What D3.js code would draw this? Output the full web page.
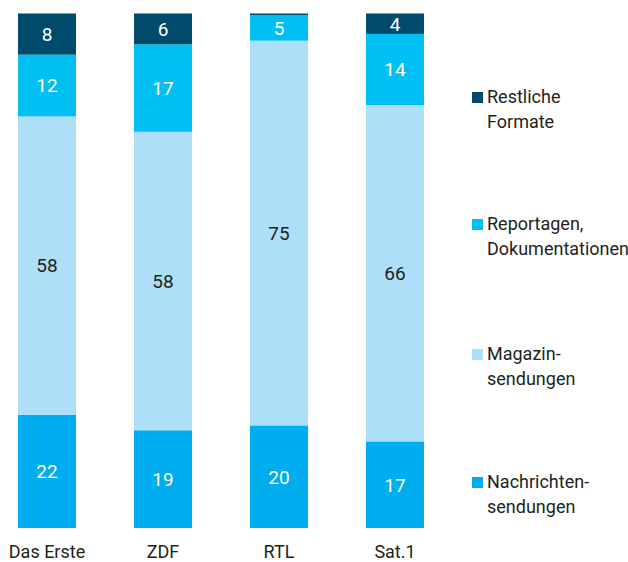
<!DOCTYPE html>
<html>
<head>
<meta charset="utf-8">
<script src="https://cdn.jsdelivr.net/npm/d3@7"></script>
<style>
  body { margin: 0; background: #fff; }
  svg text { font-family: Roboto, "Liberation Sans", sans-serif; }
</style>
</head>
<body>
<div id="chart"></div>
<script>
// Data
const channels = ['Das Erste', 'ZDF', 'RTL', 'Sat.1'];
const nachrichten = [22, 19, 20, 17];
const magazin = [58, 58, 75, 66];
const reportagen = [12, 17, 5, 14];
const restliche = [8, 6, 0.3, 4];

const seriesKeys = ['nachrichten', 'magazin', 'reportagen', 'restliche'];
const seriesLabels = {
  nachrichten: ['Nachrichten-', 'sendungen'],
  magazin: ['Magazin-', 'sendungen'],
  reportagen: ['Reportagen,', 'Dokumentationen'],
  restliche: ['Restliche', 'Formate'],
};
const colors = {
  nachrichten: '#00aeef',
  magazin: '#addff8',
  reportagen: '#00bff3',
  restliche: '#004a6b',
};
const labelColors = {
  nachrichten: '#fff',
  magazin: '#231f20',
  reportagen: '#fff',
  restliche: '#fff',
};

const width = 628;
const height = 562;

const rows = channels.map((c, i) => ({
  channel: c,
  nachrichten: nachrichten[i],
  magazin: magazin[i],
  reportagen: reportagen[i],
  restliche: restliche[i],
}));

const stack = d3.stack()
  .keys(seriesKeys)
  .offset(d3.stackOffsetExpand);
const series = stack(rows);

const x = d3.scaleBand()
  .domain(channels)
  .range([18, 424])
  .paddingInner(0.5)
  .paddingOuter(0);

const y = d3.scaleLinear()
  .domain([0, 1])
  .range([528, 13.5]);

const svg = d3.select('#chart').append('svg')
  .attr('width', width)
  .attr('height', height);

// Bars
const groups = svg.selectAll('.series')
  .data(series)
  .enter()
  .append('g')
  .attr('class', 'series')
  .attr('fill', (d) => colors[d.key]);

groups.selectAll('rect')
  .data((d) => d)
  .enter()
  .append('rect')
  .attr('x', (d) => x(d.data.channel))
  .attr('y', (d) => y(d[1]))
  .attr('width', x.bandwidth())
  .attr('height', (d) => y(d[0]) - y(d[1]));

// Value labels
groups.each(function (s) {
  d3.select(this).selectAll('text')
    .data(s.filter((d) => d.data[s.key] >= 1))
    .enter()
    .append('text')
    .attr('x', (d) => x(d.data.channel) + x.bandwidth() / 2)
    .attr('y', (d) => (y(d[0]) + y(d[1])) / 2)
    .attr('dy', '0.36em')
    .attr('text-anchor', 'middle')
    .attr('fill', labelColors[s.key])
    .style('font-size', '19px')
    .text((d) => d.data[s.key]);
});

// Category labels
svg.append('g')
  .selectAll('text')
  .data(channels)
  .enter()
  .append('text')
  .attr('x', (d) => x(d) + x.bandwidth() / 2)
  .attr('y', 558)
  .attr('text-anchor', 'middle')
  .attr('fill', '#231f20')
  .style('font-size', '18px')
  .text((d) => d);

// Legend
const legendY = { restliche: 103, reportagen: 230, magazin: 360, nachrichten: 488 };
const legend = svg.append('g')
  .selectAll('g')
  .data(seriesKeys)
  .enter()
  .append('g')
  .attr('transform', (d) => `translate(472,${legendY[d]})`);

legend.append('rect')
  .attr('x', 0)
  .attr('y', -11)
  .attr('width', 11)
  .attr('height', 11)
  .attr('fill', (d) => colors[d]);

legend.append('text')
  .attr('x', 15)
  .attr('y', 0)
  .attr('fill', '#231f20')
  .style('font-size', '18px')
  .selectAll('tspan')
  .data((d) => seriesLabels[d])
  .enter()
  .append('tspan')
  .attr('x', 15)
  .attr('dy', (d, i) => (i === 0 ? 0 : 24.5))
  .text((d) => d);
</script>
</body>
</html>
